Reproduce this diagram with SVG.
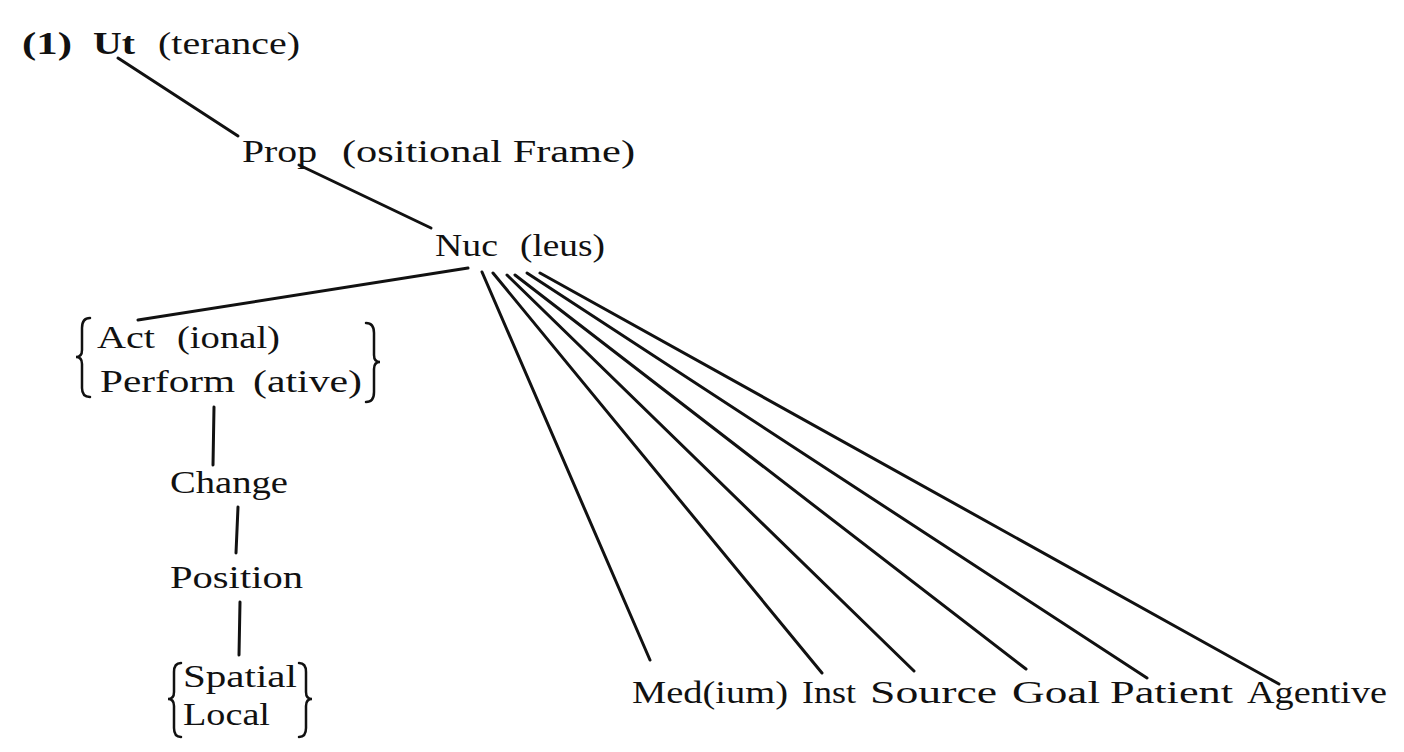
<svg xmlns="http://www.w3.org/2000/svg" width="1404" height="752" viewBox="0 0 1404 752">
<style>
  text { font-family: "Liberation Serif", "Times New Roman", serif; font-size: 31px; fill: #111; }
  .b { font-weight: bold; }
  .edge { stroke: #111; stroke-width: 3; stroke-linecap: round; fill: none; }
  .brace { stroke: #111; stroke-width: 2.5; fill: none; stroke-linecap: round; }
</style>
<rect width="1404" height="752" fill="#ffffff"/>
<g id="connectors">
  <line class="edge" x1="118" y1="58" x2="238" y2="136"/>
  <line class="edge" x1="299" y1="165" x2="431" y2="228"/>
  <line class="edge" x1="468" y1="268" x2="138" y2="320"/>
  <line class="edge" x1="214" y1="407" x2="213" y2="465"/>
  <line class="edge" x1="238" y1="507" x2="236" y2="553"/>
  <line class="edge" x1="240" y1="602" x2="239" y2="655"/>
  <line class="edge" x1="482" y1="272" x2="650" y2="660"/>
  <line class="edge" x1="493" y1="273" x2="822" y2="673"/>
  <line class="edge" x1="507" y1="275" x2="914" y2="671"/>
  <line class="edge" x1="515" y1="275" x2="1026" y2="669"/>
  <line class="edge" x1="527" y1="273" x2="1147" y2="678"/>
  <line class="edge" x1="540" y1="273" x2="1279" y2="684"/>
</g>
<g id="node-utterance">
  <text class="b" x="22" y="54" textLength="50" lengthAdjust="spacingAndGlyphs">(1)</text>
  <text class="b" x="93" y="54" textLength="42" lengthAdjust="spacingAndGlyphs">Ut</text>
  <text x="158" y="54" textLength="142" lengthAdjust="spacingAndGlyphs">(terance)</text>
</g>
<g id="node-prop">
  <text x="242" y="162" textLength="75" lengthAdjust="spacingAndGlyphs">Prop</text>
  <text x="342" y="162" textLength="293" lengthAdjust="spacingAndGlyphs">(ositional Frame)</text>
</g>
<g id="node-nuc">
  <text x="435" y="256" textLength="63" lengthAdjust="spacingAndGlyphs">Nuc</text>
  <text x="520" y="256" textLength="85" lengthAdjust="spacingAndGlyphs">(leus)</text>
</g>
<g id="node-act">
  <path class="brace" d="M90,318 Q82,318 82,328 L82,350 Q82,357 76,357 Q82,357 82,364 L82,388 Q82,397 90,397"/>
  <text x="97" y="348" textLength="58" lengthAdjust="spacingAndGlyphs">Act</text>
  <text x="177" y="348" textLength="103" lengthAdjust="spacingAndGlyphs">(ional)</text>
  <text x="100" y="392" textLength="135" lengthAdjust="spacingAndGlyphs">Perform</text>
  <text x="253" y="392" textLength="109" lengthAdjust="spacingAndGlyphs">(ative)</text>
  <path class="brace" d="M366,323 Q374,323 374,333 L374,355 Q374,362 380,362 Q374,362 374,369 L374,392 Q374,402 366,402"/>
</g>
<g id="node-change">
  <text x="170" y="493" textLength="118" lengthAdjust="spacingAndGlyphs">Change</text>
</g>
<g id="node-position">
  <text x="170" y="588" textLength="133" lengthAdjust="spacingAndGlyphs">Position</text>
</g>
<g id="node-spatial">
  <path class="brace" d="M181,663 Q174,663 174,672 L174,692 Q174,699 168,699 Q174,699 174,706 L174,728 Q174,737 181,737"/>
  <text x="183" y="687" textLength="114" lengthAdjust="spacingAndGlyphs">Spatial</text>
  <text x="183" y="725" textLength="87" lengthAdjust="spacingAndGlyphs">Local</text>
  <path class="brace" d="M299,663 Q306,663 306,672 L306,692 Q306,699 312,699 Q306,699 306,706 L306,728 Q306,737 299,737"/>
</g>
<g id="node-medium"><text x="632" y="703" textLength="156" lengthAdjust="spacingAndGlyphs">Med(ium)</text></g>
<g id="node-inst"><text x="802" y="703" textLength="54" lengthAdjust="spacingAndGlyphs">Inst</text></g>
<g id="node-source"><text x="870" y="703" textLength="127" lengthAdjust="spacingAndGlyphs">Source</text></g>
<g id="node-goal"><text x="1012" y="703" textLength="88" lengthAdjust="spacingAndGlyphs">Goal</text></g>
<g id="node-patient"><text x="1110" y="703" textLength="123" lengthAdjust="spacingAndGlyphs">Patient</text></g>
<g id="node-agentive"><text x="1247" y="703" textLength="140" lengthAdjust="spacingAndGlyphs">Agentive</text></g>
</svg>
